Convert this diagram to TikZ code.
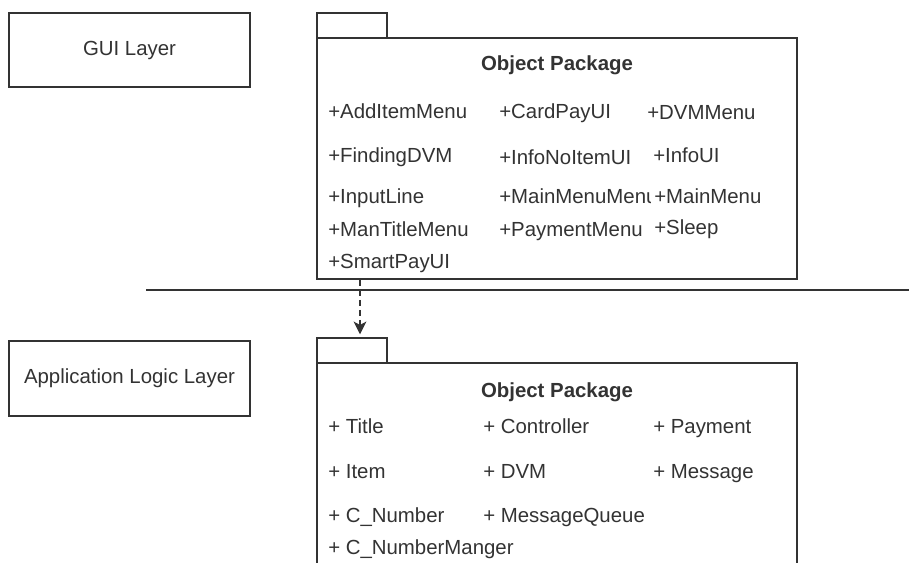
\documentclass[tikz,border=0pt]{standalone}
\usepackage{fontspec}
\setmainfont{Liberation Sans}
\usetikzlibrary{arrows.meta,fit}
\definecolor{ink}{HTML}{333333}
\tikzset{
  box/.style={draw=ink, line width=1.2pt, inner sep=0pt},
  lbl/.style={text=ink, font=\fontsize{15.3}{18}\selectfont, inner sep=0pt},
  item/.style={lbl, anchor=base west},
  title/.style={lbl, anchor=base, font=\fontsize{15.3}{18}\selectfont\bfseries},
  dep/.style={draw=ink, line width=1.2pt, dash pattern=on 4.5pt off 3pt,
    -{Stealth[length=9.5pt,width=9.5pt,inset=2.5pt]}, shorten >=2.2pt},
  sep/.style={draw=ink, line width=1.2pt}
}
\begin{document}
\begin{tikzpicture}[x=0.75pt,y=-0.75pt]
\useasboundingbox (0,0) rectangle (909,563);
\fill[white] (0,0) rectangle (909,563);
\begin{scope}
\clip (0,0) rectangle (909,563);

% layer boxes
\node[box, fit={(9,13) (250,87)}] (gui) {};
\node[lbl] (guitxt) at (gui.center) {GUI Layer};
\node[box, fit={(9,341) (250,416)}] (app) {};
\node[lbl] (apptxt) at (app.center) {Application Logic Layer};

% separator
\coordinate (sepL) at (146,290);
\coordinate (sepR) at (909,290);
\draw[sep] (sepL) -- (sepR);

% top package
\node[box, fit={(317,13) (387,38)}] (tab1) {};
\node[box, fit={(317,38) (797,279)}] (pkg1) {};
\node[title] (t1) at (557,71) {Object Package};
\node[item] (g1) at (328,118) {+AddItemMenu};
\node[item] (g2) at (499,118) {+CardPayUI};
\node[item] (g3) at (647,119.5) {+DVMMenu};
\node[item] (g4) at (328,162) {+FindingDVM};
\node[item] (g5) at (499,164) {+InfoNoItemUI};
\node[item] (g6) at (653,162.5) {+InfoUI};
\node[item] (g7) at (328,203) {+InputLine};
\begin{scope}
\clip (499,180) rectangle (650,215);
\node[item] (g8) at (499,203) {+MainMenuMenu};
\end{scope}
\node[item] (g9) at (654,203) {+MainMenu};
\node[item] (g10) at (328,236) {+ManTitleMenu};
\node[item] (g11) at (499,236) {+PaymentMenu};
\node[item] (g12) at (654,234.5) {+Sleep};
\node[item] (g13) at (328,268) {+SmartPayUI};

% bottom package
\node[box, fit={(317,338) (387,363)}] (tab2) {};
\node[box, fit={(317,363) (797,620)}] (pkg2) {};
\node[title] (t2) at (557,397) {Object Package};
\node[item] (a1) at (328,433) {+ Title};
\node[item] (a2) at (483,433) {+ Controller};
\node[item] (a3) at (653,433) {+ Payment};
\node[item] (a4) at (328,478) {+ Item};
\node[item] (a5) at (483,478) {+ DVM};
\node[item] (a6) at (653,478) {+ Message};
\node[item] (a7) at (328,522) {+ C\_Number};
\node[item] (a8) at (483,522) {+ MessageQueue};
\node[item] (a9) at (328,554) {+ C\_NumberManger};

% dependency arrow
\coordinate (ax) at (360,0);
\draw[dep] (pkg1.south -| ax) -- (tab2.north -| ax);
\end{scope}
\end{tikzpicture}
\end{document}
